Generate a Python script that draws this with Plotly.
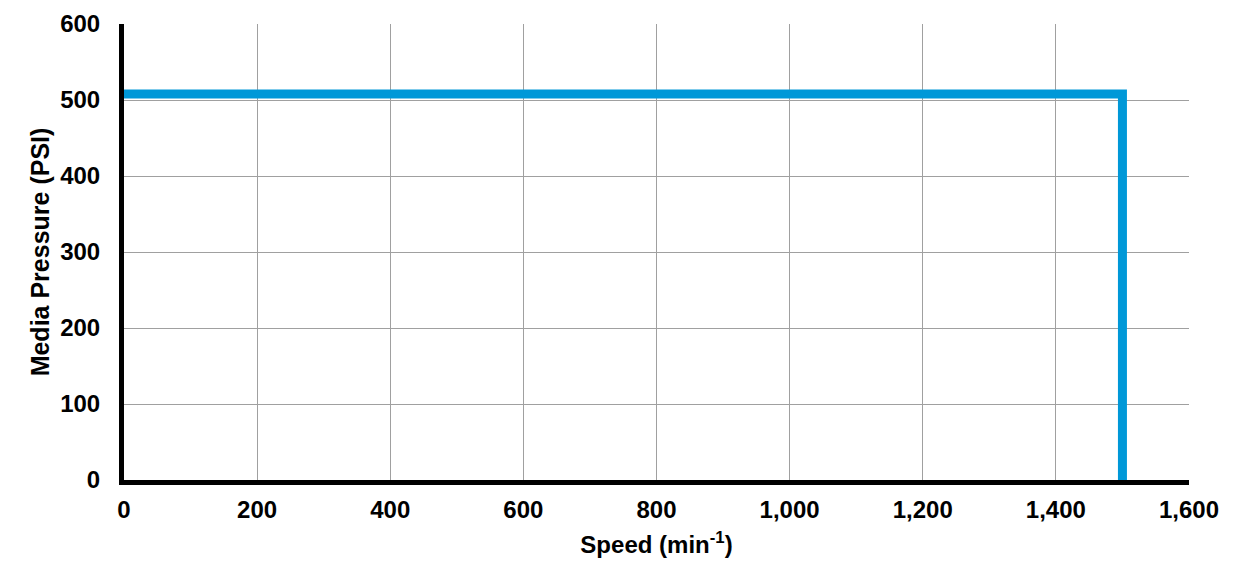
import plotly.graph_objects as go

# Operating limit: media pressure vs. speed
speed = [0, 1500, 1500]
pressure = [508, 508, 0]

x_ticks = [0, 200, 400, 600, 800, 1000, 1200, 1400, 1600]
y_ticks = [0, 100, 200, 300, 400, 500, 600]

font_family = "Liberation Sans, Arial, sans-serif"

fig = go.Figure()

fig.add_trace(
    go.Scatter(
        x=speed,
        y=pressure,
        mode='lines',
        line=dict(color='#0098D8', width=9),
        hoverinfo='x+y',
        showlegend=False,
        cliponaxis=False
    )
)

axis_common = dict(
    showline=True,
    linecolor='black',
    linewidth=5,
    showgrid=True,
    gridcolor='#a0a0a0',
    gridwidth=1,
    zeroline=False,
    ticks='',
    automargin=False,
    separatethousands=True,
    tickfont=dict(family=font_family, size=24, color='black', weight='bold'),
)

fig.update_xaxes(
    range=[0, 1600],
    tickvals=x_ticks,
    tickformat=',d',
    ticklabelstandoff=4,
    title=dict(
        text='Speed (min<sup>-1</sup>)',
        font=dict(family=font_family, size=24, color='black', weight='bold'),
        standoff=16
    ),
    **axis_common
)

fig.update_yaxes(
    range=[0, 600],
    tickvals=y_ticks,
    ticklabelstandoff=14,
    title=dict(
        text='Media Pressure (PSI)',
        font=dict(family=font_family, size=25, color='black', weight='bold'),
        standoff=5
    ),
    **axis_common
)

# the page body adds an 8px offset, so margins are shifted to compensate
fig.update_layout(
    width=1244,
    height=584,
    margin=dict(l=116, r=63, t=16, b=112),
    plot_bgcolor='white',
    paper_bgcolor='white',
    font=dict(family=font_family, color='black'),
)

fig.write_html("out.html")
